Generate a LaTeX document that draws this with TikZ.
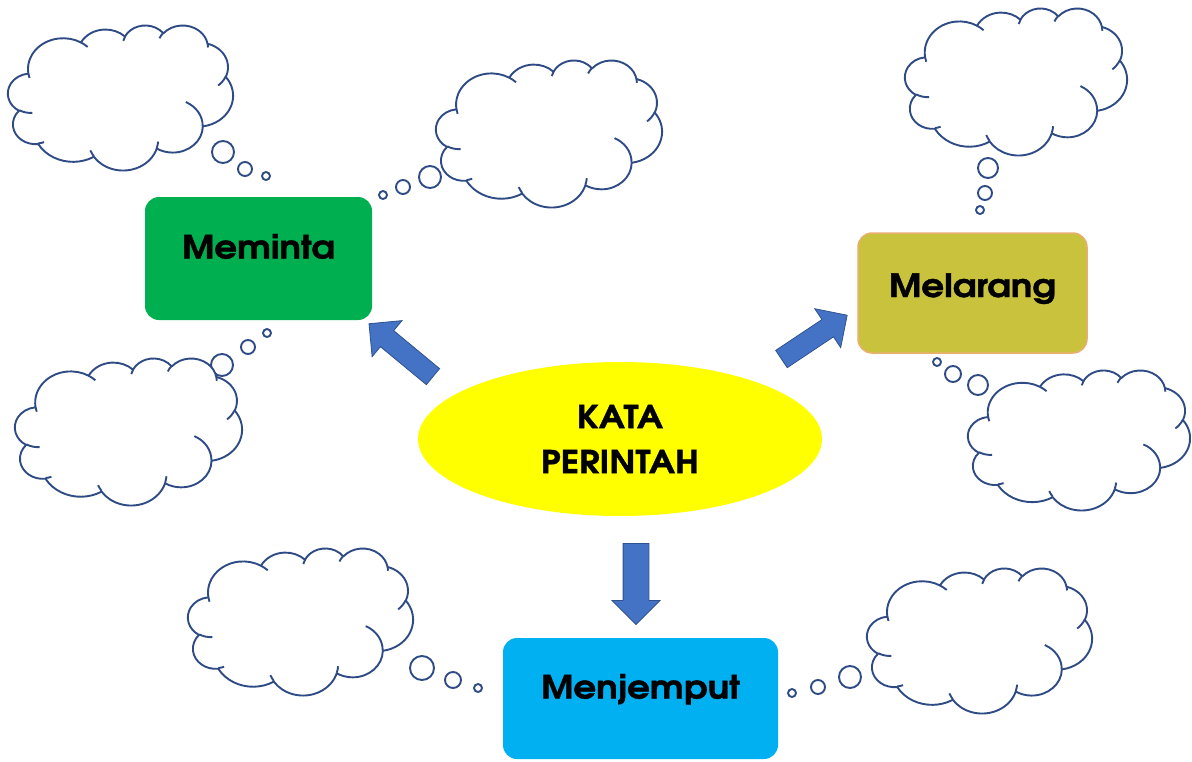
\documentclass[tikz,border=0pt]{standalone}
\usepackage{fontspec}
\setmainfont{TeX Gyre Adventor}[FakeStretch=1.12, BoldFeatures={FakeBold=1.2}]
\usetikzlibrary{shapes.geometric,shapes.arrows}
\definecolor{cloudline}{HTML}{2F4B85}
\definecolor{arrowblue}{HTML}{4472C4}
\definecolor{arrowedge}{HTML}{2F528F}
\definecolor{boxgreen}{HTML}{00B050}
\definecolor{boxolive}{HTML}{C9C23C}
\definecolor{boxoliveedge}{HTML}{E8B070}
\definecolor{boxcyan}{HTML}{00B0F0}
\definecolor{ellyellow}{HTML}{FFFF00}

% arc in the style of an Office arcTo (geometric angles)
\newcommand\cloudarc[4]{arc[x radius=#1, y radius=#2,
  start angle={atan2(#1*sin(#3),#2*cos(#3))},
  delta angle={mod(atan2(#1*sin(#3+#4),#2*cos(#3+#4))-atan2(#1*sin(#3),#2*cos(#3))+720,360)}]}

\newcommand\thoughtcloud[4]{%
  \begin{scope}[shift={(#1,#2)}, xscale=#3/100, yscale=#4/100]
    \filldraw[cloudstroke, fill=white] (9.028,33.264)
      \cloudarc{15.632}{21.273}{-190.487}{123.781}
      \cloudarc{12.345}{16.822}{-144.102}{89.945}
      \cloudarc{10.104}{13.762}{-145.808}{99.723}
      \cloudarc{11.243}{15.266}{-130.986}{117.242}
      \cloudarc{12.345}{16.836}{-78.709}{109.027}
      \cloudarc{15.683}{21.343}{-46.267}{130.269}
      \cloudarc{13.391}{18.211}{0.625}{114.033}
      \cloudarc{15.630}{21.331}{22.452}{115.173}
      \cloudarc{17.870}{24.405}{66.243}{75.711}
      \cloudarc{10.093}{13.699}{-274.942}{146.736}
      \cloudarc{10.058}{13.762}{-246.829}{152.519} -- cycle;
    \draw[cloudstroke]
      (10.863,60.595) \cloudarc{10.058}{13.762}{86.742}{26.430}
      (16.037,80.785) \cloudarc{10.093}{13.699}{73.610}{11.447}
      (38.144,90.486) \cloudarc{15.630}{21.331}{137.624}{14.081}
      (66.729,80.442) \cloudarc{15.630}{21.331}{6.453}{15.998}
      (79.002,53.134) \cloudarc{13.391}{18.211}{-70.292}{70.917}
      (96.755,35.542) \cloudarc{12.345}{16.836}{30.318}{27.752}
      (88.713,12.560) \cloudarc{11.243}{15.266}{-13.744}{14.859}
      (67.310,9.148)  \cloudarc{11.243}{15.266}{-149.181}{18.195}
      (51.252,10.926) \cloudarc{10.104}{13.762}{-163.494}{17.686}
      (32.407,12.019) \cloudarc{15.632}{21.273}{-66.707}{12.319}
      (9.553,36.549)  \cloudarc{15.632}{21.273}{157.654}{11.858};
  \end{scope}}

\newcommand\bubbles[9]{%
  \filldraw[cloudstroke, fill=white] (#1,#2) circle[radius=#3];
  \filldraw[cloudstroke, fill=white] (#4,#5) circle[radius=#6];
  \filldraw[cloudstroke, fill=white] (#7,#8) circle[radius=#9];}

\begin{document}
\begin{tikzpicture}[x=1pt, y=-1pt,
  cloudstroke/.style={draw=cloudline, line width=1.9pt, line join=round},
  wordbox/.style={rectangle, rounded corners=14pt, inner sep=0pt,
    text height=0pt, text depth=0pt, font=\bfseries\fontsize{32}{32}\selectfont},
  blockarrow/.style={single arrow, fill=arrowblue, draw=arrowedge, line width=0.8pt,
    inner xsep=0pt, single arrow head indent=0pt, minimum height=#1},
]
\useasboundingbox[fill=white] (0,0) rectangle (1192,761);

% thought clouds with their bubbles
\bubbles{223}{152}{11}{245}{169}{7}{266}{176}{4}
\thoughtcloud{8}{25}{225}{145}
\bubbles{430}{177}{11}{403}{187}{7}{383}{195}{4}
\thoughtcloud{436}{60}{226}{147}
\bubbles{988}{168}{10}{985}{193}{7}{980}{210}{4}
\thoughtcloud{905}{8}{222}{147}
\bubbles{222}{365}{11}{248}{347}{7}{267}{333}{4}
\thoughtcloud{15}{358}{227}{147}
\bubbles{978}{385}{10}{953}{374}{8}{937}{362}{4}
\thoughtcloud{968}{370}{222}{140}
\bubbles{422}{668}{12}{453}{680}{8}{478}{688}{4}
\thoughtcloud{188}{548}{225}{147}
\bubbles{850}{677}{11}{818}{687}{7}{792}{693}{4}
\thoughtcloud{867}{568}{225}{145}

% central ellipse
\node[ellipse, fill=ellyellow, minimum width=404pt, minimum height=154pt, inner sep=0pt,
  align=center, font=\bfseries\fontsize{31.5}{45}\selectfont] (kata) at (620,439)
  {KATA\\PERINTAH};

% word boxes
\node[wordbox, fill=boxgreen, minimum width=227pt, minimum height=123pt] (meminta)
  at (258.5,258.5) {Meminta};
\node[wordbox, fill=boxolive, draw=boxoliveedge, line width=1.5pt, text height=8pt,
  minimum width=229pt, minimum height=120pt] (melarang) at (972.5,293) {Melarang};
\node[wordbox, fill=boxcyan, minimum width=275pt, minimum height=121pt] (menjemput)
  at (640.5,698.5) {Menjemput};

% block arrows
\node[blockarrow=83pt, inner ysep=10pt, single arrow head extend=13pt, rotate=140.4]
  (toMeminta) at (405,353.5) {};
\node[blockarrow=79pt, inner ysep=10pt, single arrow head extend=13pt, rotate=33.7]
  (toMelarang) at (810,340) {};
\node[blockarrow=81pt, inner ysep=12.5pt, single arrow head extend=11pt, rotate=-90]
  (toMenjemput) at (636,577.5) {};
\end{tikzpicture}
\end{document}
